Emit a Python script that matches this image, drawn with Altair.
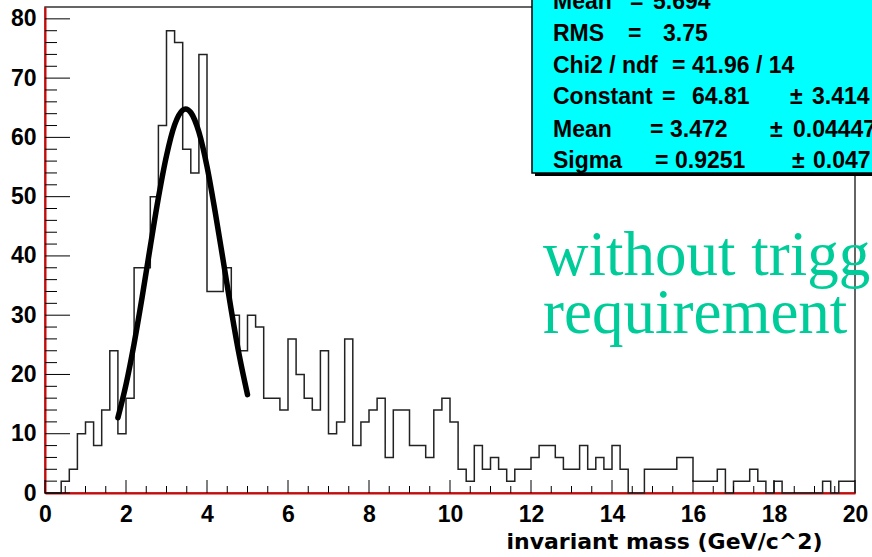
import altair as alt
import pandas as pd

# ---------------- data ----------------
bin_width = 0.2
counts = [0, 0, 2, 4, 10, 12, 8, 14, 24, 10,
          16, 38, 38, 50, 62, 78, 76, 58, 54, 74,
          34, 34, 38, 30, 24, 30, 28, 16, 16, 14,
          26, 20, 16, 14, 24, 10, 12, 26, 8, 12,
          14, 16, 6, 14, 14, 8, 8, 6, 14, 16,
          12, 4, 2, 8, 4, 6, 4, 2, 4, 4,
          6, 8, 8, 6, 4, 4, 8, 4, 6, 4,
          8, 4, 0, 0, 4, 4, 4, 4, 6, 6,
          2, 2, 2, 4, 0, 2, 2, 4, 2, 0,
          2, 0, 0, 0, 0, 0, 2, 0, 2, 2]

fit_x = [1.8, 2.0, 2.2, 2.4, 2.6, 2.8, 3.0, 3.2, 3.4, 3.47, 3.6, 3.8, 4.0, 4.2, 4.4, 4.6, 4.8, 5.0]
fit_y = [12.7, 18.3, 25.2, 33.1, 41.6, 49.8, 56.9, 62.1, 64.6, 64.8, 64.2, 60.9, 55.1, 47.5, 39.2, 30.8, 23.1, 16.6]

x_major = [0, 2, 4, 6, 8, 10, 12, 14, 16, 18, 20]
x_minor = [v / 2 for v in range(0, 41) if v % 4 != 0]
y_major = [0, 10, 20, 30, 40, 50, 60, 70, 80]
y_minor = [v for v in range(0, 81, 2) if v % 10 != 0]

stats_lines = [
    ["Mean", "=", "5.694", "", ""],
    ["RMS", "=", "3.75", "", ""],
    ["Chi2 / ndf", "=", "41.96 / 14", "", ""],
    ["Constant", "=", "64.81", "\u00b1", "3.414"],
    ["Mean", "=", "3.472", "\u00b1", "0.04447"],
    ["Sigma", "=", "0.9251", "\u00b1", "0.047"],
]
label_lines = ["without trigger", "requirement"]

# ---------------- layout (pixels) ----------------
W, H = 810, 486
stat_cols = [
    [508, 585, 608, None, None],
    [508, 583, 618, None, None],
    [508, 627, 647, None, None],
    [508, 617, 647, 745, 767],
    [508, 605, 625, 725, 748],
    [508, 610, 630, 747, 768],
]
stat_base = [1.5, 33.7, 65.7, 97.0, 130.3, 161.3]

hist_edges = [round(i * bin_width, 2) for i in range(len(counts) + 1)]
hist_df = pd.DataFrame({"x": hist_edges, "y": counts + [counts[-1]]})
fit_df = pd.DataFrame({"x": fit_x, "y": fit_y})
one = pd.DataFrame({"a": [0]})

xscale = alt.Scale(domain=[0, 20], nice=False, zero=False)
yscale = alt.Scale(domain=[0, 82], nice=False)

xaxis = alt.Axis(values=x_major, ticks=False, tickSize=0, grid=False,
                 domainColor="#e00000", domainWidth=2,
                 labelFont="Liberation Sans", labelFontWeight="bold", labelFontSize=23,
                 labelColor="black", labelPadding=10, labelFlush=False, labelOverlap=False,
                 format="d",
                 title="invariant mass (GeV/c^2)", titleFont="DejaVu Sans",
                 titleFontWeight="bold", titleFontSize=22, titleColor="black",
                 titleAlign="right", titleBaseline="alphabetic", titleX=777, titleY=55)
yaxis = alt.Axis(values=y_major, ticks=False, tickSize=0, grid=False,
                 domainColor="#e00000", domainWidth=2,
                 labelFont="Liberation Sans", labelFontWeight="bold", labelFontSize=23,
                 labelColor="black", labelPadding=9, labelFlush=False, labelOverlap=False,
                 format="d", title="")

hist = alt.Chart(hist_df).mark_line(interpolate="step-after", color="#222222", strokeWidth=1.5).encode(
    x=alt.X("x:Q", scale=xscale, axis=xaxis),
    y=alt.Y("y:Q", scale=yscale, axis=yaxis),
)
fit = alt.Chart(fit_df).mark_line(interpolate="monotone", color="black", strokeWidth=5.5,
                                  strokeCap="round").encode(
    x=alt.X("x:Q", scale=xscale), y=alt.Y("y:Q", scale=yscale))

xt_major = alt.Chart(pd.DataFrame({"x": x_major})).mark_rule(color="black", strokeWidth=1).encode(
    x=alt.X("x:Q", scale=xscale), y=alt.value(H), y2=alt.value(H - 13))
xt_minor = alt.Chart(pd.DataFrame({"x": x_minor})).mark_rule(color="black", strokeWidth=1).encode(
    x=alt.X("x:Q", scale=xscale), y=alt.value(H), y2=alt.value(H - 7))
yt_major = alt.Chart(pd.DataFrame({"y": y_major})).mark_rule(color="black", strokeWidth=1).encode(
    y=alt.Y("y:Q", scale=yscale), x=alt.value(0), x2=alt.value(25))
yt_minor = alt.Chart(pd.DataFrame({"y": y_minor})).mark_rule(color="black", strokeWidth=1).encode(
    y=alt.Y("y:Q", scale=yscale), x=alt.value(0), x2=alt.value(12))

shadow = alt.Chart(one).mark_rect(fill="black").encode(
    x=alt.value(490), x2=alt.value(910), y=alt.value(-40), y2=alt.value(169))
box = alt.Chart(one).mark_rect(fill="#00ffff", stroke="black", strokeWidth=1.5).encode(
    x=alt.value(487), x2=alt.value(907), y=alt.value(-40), y2=alt.value(166))

layers = [hist, fit, xt_major, xt_minor, yt_major, yt_minor, shadow, box]

for line, cols, base in zip(stats_lines, stat_cols, stat_base):
    for tok, px in zip(line, cols):
        if tok and px is not None:
            layers.append(
                alt.Chart(one).mark_text(text=tok, align="left", baseline="alphabetic",
                                         font="Liberation Sans", fontWeight="bold",
                                         fontSize=23, color="black").encode(
                    x=alt.value(px), y=alt.value(base)))

for txt, base in zip(label_lines, [268, 326]):
    layers.append(
        alt.Chart(one).mark_text(text=txt, align="left", baseline="alphabetic",
                                 font="Liberation Serif", fontSize=63, color="#00cc99").encode(
            x=alt.value(498), y=alt.value(base)))

chart = alt.layer(*layers).properties(
    width=W, height=H,
    autosize=alt.AutoSizeParams(type="none"),
    padding={"left": 45, "top": 7, "right": 17, "bottom": 64},
    background="white",
).configure_view(stroke="#333333", strokeWidth=1.5)

chart.save("out.html", embed_options={"renderer": "svg", "actions": False})
